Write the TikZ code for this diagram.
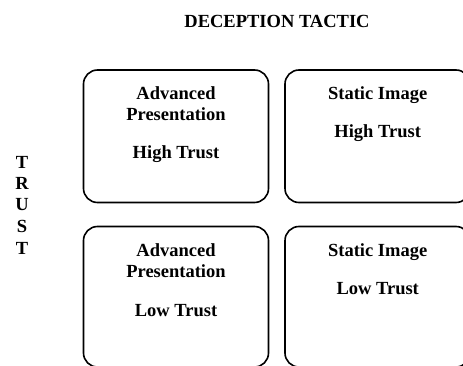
\documentclass[tikz,border=0pt]{standalone}
\usepackage{fontspec}
\setmainfont{Liberation Serif}
\begin{document}
\begin{tikzpicture}[x=1pt,y=-1pt,
  quad/.style={draw=black, line width=1.6pt, rounded corners=14pt, inner sep=0pt, minimum width=185pt},
  lbl/.style={anchor=base, inner sep=0pt, font=\fontsize{18.5}{21.3}\selectfont\bfseries}]
\useasboundingbox (0,0) rectangle (463,366);
\clip (0,0) rectangle (463,366);
\fill[white] (0,0) rectangle (463,366);
% title
\node[lbl] (title) at (277,27.3) {DECEPTION TACTIC};
% side label
\node[lbl] (t1) at (22,168.3) {T};
\node[lbl] (t2) at (22,189.3) {R};
\node[lbl] (t3) at (22,211) {U};
\node[lbl] (t4) at (22,232.3) {S};
\node[lbl] (t5) at (22,254) {T};
% boxes
\node[quad, minimum height=132.5pt] (tl) at (176,136.25) {};
\node[quad, minimum height=132.5pt] (tr) at (377.5,136.25) {};
\node[quad, minimum height=140.5pt] (bl) at (176,296.75) {};
\node[quad, minimum height=140.5pt] (br) at (377.5,296.75) {};
% top-left
\node[lbl] (tla) at (176,100) {Advanced};
\node[lbl] (tlb) at (176,121) {Presentation};
\node[lbl] (tlc) at (176,159) {High Trust};
% top-right
\node[lbl] (tra) at (377.7,100) {Static Image};
\node[lbl] (trb) at (377.7,137.7) {High Trust};
% bottom-left
\node[lbl] (bla) at (176,256) {Advanced};
\node[lbl] (blb) at (176,277.7) {Presentation};
\node[lbl] (blc) at (176,316) {Low Trust};
% bottom-right
\node[lbl] (bra) at (377.7,256) {Static Image};
\node[lbl] (brb) at (377.7,294) {Low Trust};
\end{tikzpicture}
\end{document}
